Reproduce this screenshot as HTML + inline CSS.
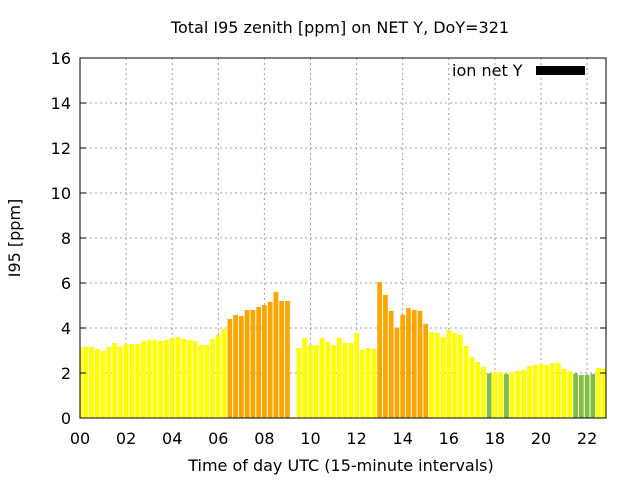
<!DOCTYPE html>
<html><head><meta charset="utf-8"><style>
body{margin:0;background:#fff;}
svg{display:block;font-family:"DejaVu Sans","Liberation Sans",sans-serif;}
</style></head><body>
<svg id="c" width="640" height="480">
<text x="340" y="33" text-anchor="middle" font-size="16">Total I95 zenith [ppm] on NET Y, DoY=321</text>
<text x="341" y="471" text-anchor="middle" font-size="16">Time of day UTC (15-minute intervals)</text>
<text transform="translate(20,238) rotate(-90)" text-anchor="middle" font-size="16">I95 [ppm]</text>
<g id="grid"></g><g id="bars"></g><g id="axes"></g>
<text x="452" y="76" font-size="16">ion net Y</text>
<rect x="536" y="66" width="49" height="9" fill="#000"/>
</svg>
<script>
const values=[3.16,3.16,3.16,3.07,2.98,3.16,3.33,3.16,3.29,3.29,3.29,3.42,3.47,3.47,3.42,3.47,3.56,3.6,3.51,3.47,3.42,3.24,3.24,3.51,3.69,3.96,4.4,4.58,4.53,4.8,4.8,4.93,5.02,5.16,5.6,5.2,5.2,null,3.11,3.56,3.24,3.24,3.56,3.38,3.24,3.56,3.33,3.33,3.78,3.02,3.11,3.07,6.04,5.47,4.76,4.02,4.58,4.89,4.8,4.76,4.18,3.82,3.78,3.6,3.91,3.78,3.69,3.2,2.71,2.49,2.27,1.98,2.04,2.04,1.96,2.04,2.09,2.13,2.31,2.36,2.4,2.36,2.44,2.44,2.18,2.09,1.98,1.91,1.91,1.96,2.22,2.2];
const xTicks=["00","02","04","06","08","10","12","14","16","18","20","22"];
const yTicks=[0,2,4,6,8,10,12,14,16];
const L=80,R=606,T=58,B=418,hourPx=23.05;
const NS="http://www.w3.org/2000/svg";
const xs=h=>L+h*hourPx, ys=v=>B-(v/16)*(B-T);
function mk(t,a,p){const e=document.createElementNS(NS,t);for(const k in a)e.setAttribute(k,a[k]);p.appendChild(e);return e;}
const grid=document.getElementById('grid'),bars=document.getElementById('bars'),axes=document.getElementById('axes');
yTicks.forEach(v=>{const y=ys(v);
 if(v>0&&v<16){const g=mk('line',{x1:L,x2:R,y1:y,y2:y,stroke:'#a0a0a0','stroke-dasharray':'2,3'},grid);
 
 }
 mk('line',{x1:L,x2:L+6,y1:y,y2:y,stroke:'#000'},axes);mk('line',{x1:R,x2:R-6,y1:y,y2:y,stroke:'#000'},axes);
 const t=mk('text',{x:L-9,y:y+6,'text-anchor':'end','font-size':16},axes);t.textContent=v;
 
 });
xTicks.forEach((s,i)=>{const x=xs(i*2);
 if(i>0){const g=mk('line',{x1:x,x2:x,y1:T,y2:B,stroke:'#a0a0a0','stroke-dasharray':'2,3'},grid);
 
 }
 const t=mk('text',{x:x,y:444,'text-anchor':'middle','font-size':16},axes);t.textContent=s;
 
 });
const pitch=hourPx/4;
values.forEach((v,i)=>{if(v==null)return;
 const cx=xs(i/4);let x0=Math.max(L,cx-pitch/2+0.5),x1=Math.min(R,cx+pitch/2-0.5);
 const col=v<2?'#80c040':(v>=4?'#ffa500':'#ffff00');
 const r=mk('rect',{x:x0,y:ys(v),width:Math.max(0,x1-x0),height:B-ys(v),fill:col},bars);
 
 });
const f=mk('rect',{x:L,y:T,width:R-L,height:B-T,fill:'none',stroke:'#000','stroke-width':1},axes);


</script>
</body></html>
